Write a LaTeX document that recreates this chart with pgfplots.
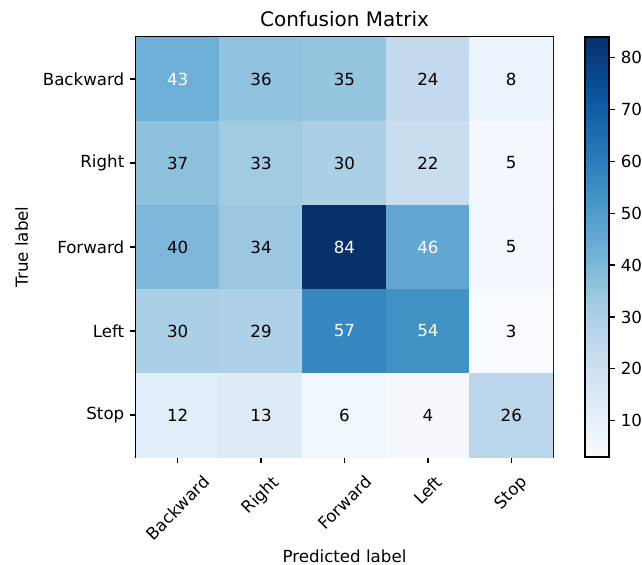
\documentclass[border=0pt]{standalone}
\usepackage{fontspec}
\setmainfont{DejaVu Sans}
\usepackage{pgfplots}
\pgfplotsset{compat=1.18}
\pgfplotsset{colormap={mplblues}{rgb255=(247,251,255) rgb255=(222,235,247) rgb255=(198,219,239) rgb255=(158,202,225) rgb255=(107,174,214) rgb255=(66,146,198) rgb255=(33,113,181) rgb255=(8,81,156) rgb255=(8,48,107)}}
\begin{document}
\begin{tikzpicture}
\useasboundingbox (-81.6pt,-64.8pt) rectangle (303.6pt,274.2pt);
\begin{axis}[
  at={(0pt,0pt)}, anchor=south west,
  scale only axis, width=250.2pt, height=252pt,
  xmin=-0.5, xmax=4.5, ymin=-0.5, ymax=4.5, y dir=reverse,
  xtick={0,...,4}, ytick={0,...,4},
  xticklabels={\rotatebox{45}{Backward},\rotatebox{45}{Right},\rotatebox{45}{Forward},\rotatebox{45}{Left},\rotatebox{45}{Stop}},
  yticklabels={Backward,Right,Forward,Left,Stop},
  xticklabel style={anchor=north, yshift=-3.5pt, font=\fontsize{10}{12}\selectfont},
  yticklabel style={font=\fontsize{10}{12}\selectfont},
  tick align=outside, major tick length=3.5pt,
  tick style={black, line width=0.8pt},
  axis line style={black, line width=0.8pt},
  xtick pos=bottom, ytick pos=left,
  title={Confusion Matrix},
  title style={font=\fontsize{12}{14}\selectfont, yshift=-3.5pt},
  xlabel={Predicted label}, ylabel={True label},
  xlabel shift=-1.5pt, ylabel shift=2pt,
  label style={font=\fontsize{10}{12}\selectfont},
  colormap name=mplblues,
  point meta min=3, point meta max=84,
  colorbar,
  colorbar style={
    at={(parent axis.north east)}, anchor=north west, xshift=10.7pt,
    width=14.4pt, height=252pt,
    ytick={10,20,...,80}, ytick pos=right,
    tick align=outside, major tick length=3.5pt,
    tick style={black, line width=0.8pt},
    axis line style={black, line width=0.8pt},
    yticklabel style={/pgf/number format/assume math mode=true, font=\fontsize{10}{12}\selectfont},
  },
]
\addplot[matrix plot*, mesh/cols=5, mesh/rows=5, point meta=explicit] table[meta=C] {
x y C
0 0 43
1 0 36
2 0 35
3 0 24
4 0 8
0 1 37
1 1 33
2 1 30
3 1 22
4 1 5
0 2 40
1 2 34
2 2 84
3 2 46
4 2 5
0 3 30
1 3 29
2 3 57
3 3 54
4 3 3
0 4 12
1 4 13
2 4 6
3 4 4
4 4 26
};
\addplot[only marks, mark=none, nodes near coords, point meta=explicit symbolic,
  nodes near coords align=center,
  every node near coord/.append style={anchor=center, text=black, font=\fontsize{10}{12}\selectfont}]
  coordinates {(1,0)[36] (2,0)[35] (3,0)[24] (4,0)[8]
  (0,1)[37] (1,1)[33] (2,1)[30] (3,1)[22] (4,1)[5]
  (0,2)[40] (1,2)[34] (4,2)[5]
  (0,3)[30] (1,3)[29] (4,3)[3]
  (0,4)[12] (1,4)[13] (2,4)[6] (3,4)[4] (4,4)[26]};
\addplot[only marks, mark=none, nodes near coords, point meta=explicit symbolic,
  nodes near coords align=center,
  every node near coord/.append style={anchor=center, text=white, font=\fontsize{10}{12}\selectfont}]
  coordinates {(0,0)[43] (2,2)[84] (3,2)[46] (2,3)[57] (3,3)[54]};
\end{axis}
\end{tikzpicture}
\end{document}
